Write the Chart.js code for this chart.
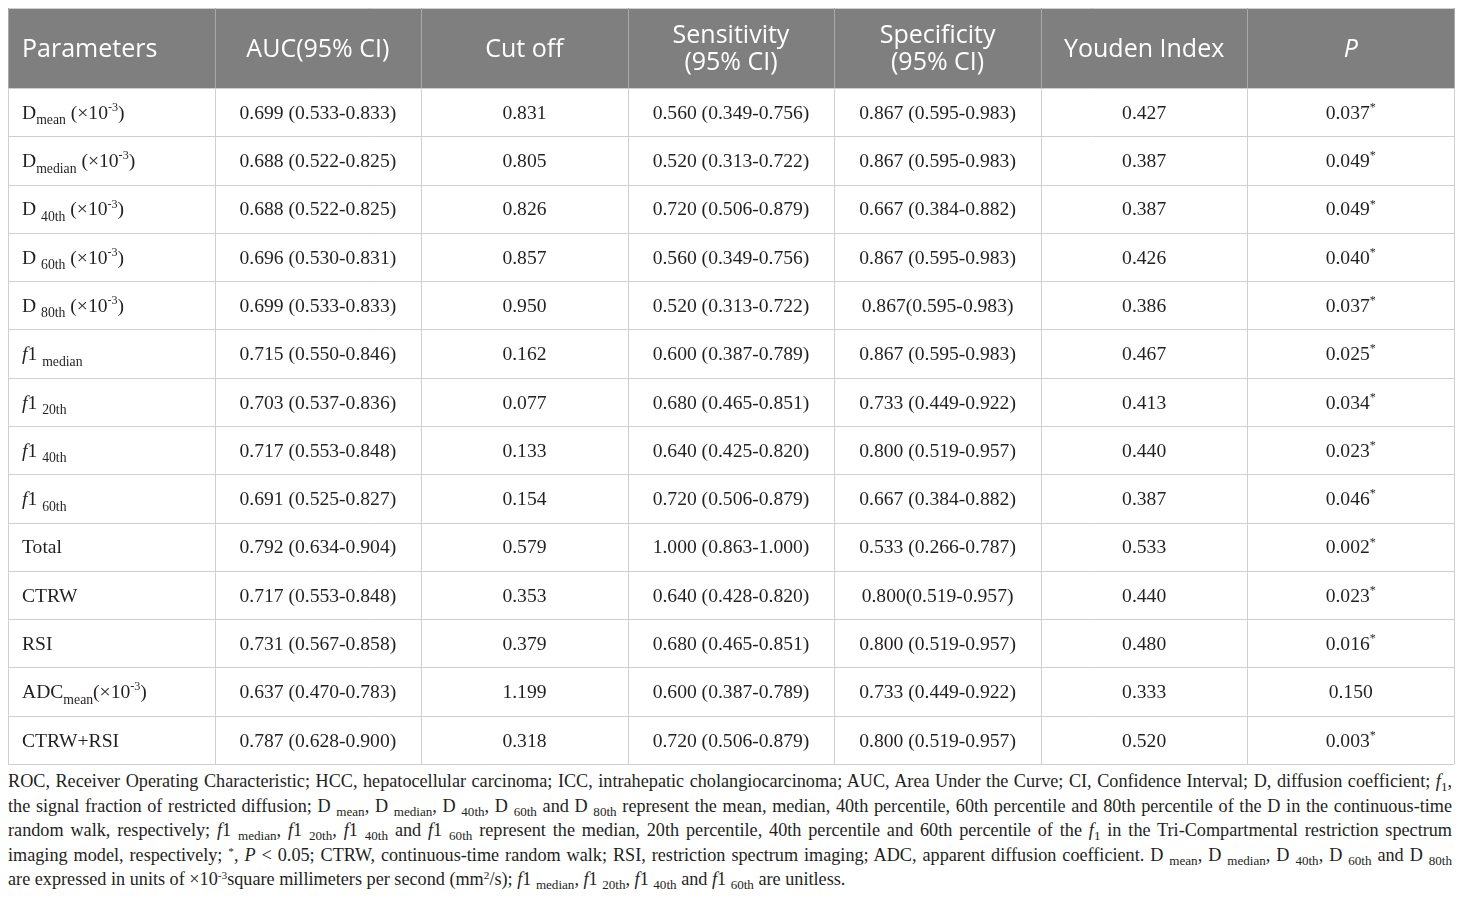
<!DOCTYPE html>
<html><head><meta charset="utf-8">
<script src="https://cdn.jsdelivr.net/npm/chart.js@4.4.0/dist/chart.umd.min.js"></script>
<style>
html,body{margin:0;padding:0;background:#fff;width:1460px;height:900px;overflow:hidden}
#wrap{position:absolute;left:0;top:0;width:1460px;height:768px}
#note{position:absolute;left:8px;top:769px;width:1444px;font-family:"Liberation Serif","DejaVu Serif",serif;font-size:18.2px;line-height:24.5px;color:#231f20}
#note div{text-align:justify;text-align-last:justify;white-space:normal}
#note div.last{text-align-last:left}
#note sub{font-size:0.72em;vertical-align:-0.28em;line-height:0}
#note sup{font-size:0.62em;vertical-align:0.55em;line-height:0}
</style></head>
<body>
<div id="wrap"><canvas id="c" width="1460" height="768"></canvas></div>
<div id="note">
<div>ROC, Receiver Operating Characteristic; HCC, hepatocellular carcinoma; ICC, intrahepatic cholangiocarcinoma; AUC, Area Under the Curve; CI, Confidence Interval; D, diffusion coefficient; <i>f</i><sub>1</sub>,</div>
<div>the signal fraction of restricted diffusion; D <sub>mean</sub>, D <sub>median</sub>, D <sub>40th</sub>, D <sub>60th</sub> and D <sub>80th</sub> represent the mean, median, 40th percentile, 60th percentile and 80th percentile of the D in the continuous-time</div>
<div>random walk, respectively; <i>f</i>1 <sub>median</sub>, <i>f</i>1 <sub>20th</sub>, <i>f</i>1 <sub>40th</sub> and <i>f</i>1 <sub>60th</sub> represent the median, 20th percentile, 40th percentile and 60th percentile of the <i>f</i><sub>1</sub> in the Tri-Compartmental restriction spectrum</div>
<div>imaging model, respectively; <sup>*</sup>, <i>P</i> &lt; 0.05; CTRW, continuous-time random walk; RSI, restriction spectrum imaging; ADC, apparent diffusion coefficient. D <sub>mean</sub>, D <sub>median</sub>, D <sub>40th</sub>, D <sub>60th</sub> and D <sub>80th</sub></div>
<div class="last">are expressed in units of ×10<sup>-3</sup>square millimeters per second (mm<sup>2</sup>/s); <i>f</i>1 <sub>median</sub>, <i>f</i>1 <sub>20th</sub>, <i>f</i>1 <sub>40th</sub> and <i>f</i>1 <sub>60th</sub> are unitless.</div>
</div>
<script>
// ---- data ----
const columns = ["Parameters","AUC(95% CI)","Cut off","Sensitivity\n(95% CI)","Specificity\n(95% CI)","Youden Index","~P~"];
const parameters = [
  "D_{mean} (×10^{-3})",
  "D_{median} (×10^{-3})",
  "D _{40th} (×10^{-3})",
  "D _{60th} (×10^{-3})",
  "D _{80th} (×10^{-3})",
  "~f~1 _{median}",
  "~f~1 _{20th}",
  "~f~1 _{40th}",
  "~f~1 _{60th}",
  "Total",
  "CTRW",
  "RSI",
  "ADC_{mean}(×10^{-3})",
  "CTRW+RSI"
];
const auc = ["0.699 (0.533-0.833)","0.688 (0.522-0.825)","0.688 (0.522-0.825)","0.696 (0.530-0.831)","0.699 (0.533-0.833)","0.715 (0.550-0.846)","0.703 (0.537-0.836)","0.717 (0.553-0.848)","0.691 (0.525-0.827)","0.792 (0.634-0.904)","0.717 (0.553-0.848)","0.731 (0.567-0.858)","0.637 (0.470-0.783)","0.787 (0.628-0.900)"];
const cutOff = ["0.831","0.805","0.826","0.857","0.950","0.162","0.077","0.133","0.154","0.579","0.353","0.379","1.199","0.318"];
const sensitivity = ["0.560 (0.349-0.756)","0.520 (0.313-0.722)","0.720 (0.506-0.879)","0.560 (0.349-0.756)","0.520 (0.313-0.722)","0.600 (0.387-0.789)","0.680 (0.465-0.851)","0.640 (0.425-0.820)","0.720 (0.506-0.879)","1.000 (0.863-1.000)","0.640 (0.428-0.820)","0.680 (0.465-0.851)","0.600 (0.387-0.789)","0.720 (0.506-0.879)"];
const specificity = ["0.867 (0.595-0.983)","0.867 (0.595-0.983)","0.667 (0.384-0.882)","0.867 (0.595-0.983)","0.867(0.595-0.983)","0.867 (0.595-0.983)","0.733 (0.449-0.922)","0.800 (0.519-0.957)","0.667 (0.384-0.882)","0.533 (0.266-0.787)","0.800(0.519-0.957)","0.800 (0.519-0.957)","0.733 (0.449-0.922)","0.800 (0.519-0.957)"];
const youden = ["0.427","0.387","0.387","0.426","0.386","0.467","0.413","0.440","0.387","0.533","0.440","0.480","0.333","0.520"];
const pValues = ["0.037^{*}","0.049^{*}","0.049^{*}","0.040^{*}","0.037^{*}","0.025^{*}","0.034^{*}","0.023^{*}","0.046^{*}","0.002^{*}","0.023^{*}","0.016^{*}","0.150","0.003^{*}"];

// ---- layout constants ----
const HEAD = 1.657;            // header height in row units
const NROWS = parameters.length;
const tableCols = [parameters, auc, cutOff, sensitivity, specificity, youden, pValues];

function parseRich(s){
  const segs=[]; let it=false, buf='', i=0;
  const flush=()=>{ if(buf){segs.push({t:buf,m:'n',it}); buf='';} };
  while(i<s.length){
    const c=s[i];
    if(c==='~'){ flush(); it=!it; i++; continue; }
    if((c==='_'||c==='^') && s[i+1]==='{'){
      flush(); const j=s.indexOf('}',i+2);
      segs.push({t:s.slice(i+2,j),m:c==='_'?'sub':'sup',it});
      i=j+1; continue;
    }
    buf+=c; i++;
  }
  flush(); return segs;
}
function segFont(sg,size,family){
  const sz = sg.m==='sub'? size*0.70 : sg.m==='sup'? size*0.62 : size;
  return (sg.it?'italic ':'')+sz.toFixed(2)+'px '+family;
}
function drawRich(ctx,str,x,cy,align,size,family,color){
  const segs=parseRich(str);
  let w=0; const ws=[];
  segs.forEach(sg=>{ctx.font=segFont(sg,size,family); const m=ctx.measureText(sg.t).width; ws.push(m); w+=m;});
  let cx = align==='center'? x-w/2 : x;
  const base = cy + size*0.34;
  ctx.fillStyle=color; ctx.textBaseline='alphabetic'; ctx.textAlign='left';
  segs.forEach((sg,k)=>{
    ctx.font=segFont(sg,size,family);
    const dy = sg.m==='sub'? size*0.28 : sg.m==='sup'? -size*0.40 : 0;
    ctx.fillText(sg.t,cx,base+dy);
    cx+=ws[k];
  });
}

const tablePlugin = {
  id:'tablePlugin',
  afterDatasetsDraw(chart){
    const ctx=chart.ctx, xs=chart.scales.x, ys=chart.scales.y;
    const cw = xs.getPixelForValue(1)-xs.getPixelForValue(0);
    const left = i => xs.getPixelForValue(i)-cw/2;
    const yTop = ys.getPixelForValue(0), yHead=ys.getPixelForValue(HEAD), yBot=ys.getPixelForValue(HEAD+NROWS);
    const xL=left(0), xR=left(columns.length);
    const px=v=>Math.round(v)+0.5;
    ctx.save();
    ctx.lineWidth=1;
    ctx.strokeStyle='#cfcfcf';
    for(let r=0;r<=NROWS;r++){
      const y=px(ys.getPixelForValue(HEAD+r));
      ctx.beginPath(); ctx.moveTo(xL,y); ctx.lineTo(xR,y); ctx.stroke();
    }
    ctx.beginPath(); ctx.moveTo(xL,px(yTop)); ctx.lineTo(xR,px(yTop)); ctx.stroke();
    for(let c=0;c<=columns.length;c++){
      const x=px(left(c));
      ctx.strokeStyle='#a9a9a9';
      ctx.beginPath(); ctx.moveTo(x,yTop); ctx.lineTo(x,yHead); ctx.stroke();
      ctx.strokeStyle='#cfcfcf';
      ctx.beginPath(); ctx.moveTo(x,yHead); ctx.lineTo(x,yBot); ctx.stroke();
    }
    const hFam='"Open Sans", sans-serif', hSize=25;
    const hc=(yTop+yHead)/2;
    columns.forEach((h,c)=>{
      const lines=h.split('\n');
      lines.forEach((ln,k)=>{
        const cy = hc + (k-(lines.length-1)/2)*27.5;
        if(c===0) drawRich(ctx,ln,left(c)+14,cy,'left',hSize,hFam,'#ffffff');
        else drawRich(ctx,ln,left(c)+cw/2,cy,'center',hSize,hFam,'#ffffff');
      });
    });
    const bFam='"Liberation Serif", "DejaVu Serif", serif', bSize=19.6;
    tableCols.forEach((col,c)=>{
      col.forEach((v,r)=>{
        const cy=ys.getPixelForValue(HEAD+r+0.5);
        if(c===0) drawRich(ctx,v,left(c)+14,cy,'left',bSize,bFam,'#231f20');
        else drawRich(ctx,v,left(c)+cw/2,cy,'center',bSize,bFam,'#231f20');
      });
    });
    ctx.restore();
  }
};

new Chart(document.getElementById('c').getContext('2d'),{
  type:'bar',
  data:{
    labels: columns.map(h=>h.replace(/~/g,'').replace('\n',' ')),
    datasets:[{
      data: columns.map(()=>[0,HEAD]),
      backgroundColor:'#7f7f7f',
      borderWidth:0,
      barPercentage:1,
      categoryPercentage:1
    }]
  },
  options:{
    responsive:false,
    animation:false,
    events:[],
    layout:{padding:{left:8,right:6,top:8,bottom:4}},
    plugins:{legend:{display:false},tooltip:{enabled:false}},
    scales:{
      x:{display:false},
      y:{display:false,reverse:true,min:0,max:HEAD+NROWS}
    }
  },
  plugins:[tablePlugin]
});
</script>
</body></html>
